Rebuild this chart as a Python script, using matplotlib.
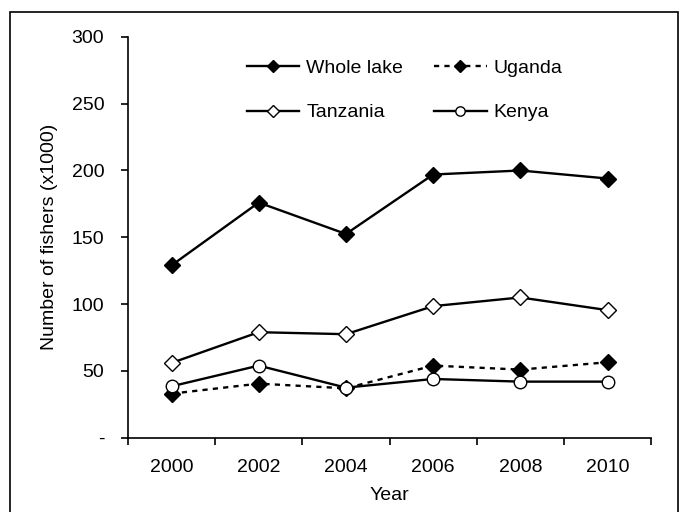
import numpy as np
import matplotlib
matplotlib.use('Agg')
import matplotlib.pyplot as plt
from matplotlib.patches import Rectangle

plt.rcParams['font.family'] = ['Liberation Sans', 'DejaVu Sans']

years = ['2000', '2002', '2004', '2006', '2008', '2010']
whole_lake = [129, 176, 152.5, 197, 200, 194]
uganda = [33, 40.5, 37, 54, 51, 56.5]
tanzania = [56, 79, 77.5, 98.5, 105, 95.5]
kenya = [38.5, 54, 37.5, 44, 42, 42]
ytick_vals = [0, 50, 100, 150, 200, 250, 300]
ytick_labels = ['-', '50', '100', '150', '200', '250', '300']

fs = 14
fig = plt.figure(figsize=(6.84, 5.12), dpi=100)
ax = fig.add_axes([0.187, 0.145, 0.765, 0.783])

x = np.arange(len(years))
lw = 1.7
l_whole, = ax.plot(x, whole_lake, color='black', lw=lw, marker='D', ms=8, mfc='black', mec='black', label='Whole lake')
l_uga, = ax.plot(x, uganda, color='black', lw=lw, ls=(0, (2.2, 2.2)), marker='D', ms=8, mfc='black', mec='black', label='Uganda')
l_tan, = ax.plot(x, tanzania, color='black', lw=lw, marker='D', ms=8, mfc='white', mec='black', mew=1, label='Tanzania')
l_ken, = ax.plot(x, kenya, color='black', lw=lw, marker='o', ms=9, mfc='white', mec='black', mew=1, label='Kenya')

ax.set_xlim(-0.5, len(years) - 0.5)
ax.set_ylim(0, 300)
ax.set_xticks(np.arange(-0.5, len(years), 1.0))
ax.set_xticklabels([])
ax.set_xticks(x, minor=True)
ax.set_xticklabels(years, minor=True)
ax.tick_params(axis='x', which='major', direction='out', length=5, width=1.2)
ax.tick_params(axis='x', which='minor', length=0, pad=15, labelsize=fs)
ax.set_yticks(ytick_vals)
ax.set_yticklabels(ytick_labels)
ax.tick_params(axis='y', direction='out', length=5, width=1.2, labelsize=fs, pad=12)

for s in ['top', 'right']:
    ax.spines[s].set_visible(False)
for s in ['left', 'bottom']:
    ax.spines[s].set_linewidth(1.2)

ax.set_xlabel('Year', fontsize=fs, labelpad=8)
ax.set_ylabel('Number of fishers (x1000)', fontsize=fs, labelpad=10)

# row-wise order: Whole lake, Uganda / Tanzania, Kenya
ax.legend([l_whole, l_tan, l_uga, l_ken], ['Whole lake', 'Tanzania', 'Uganda', 'Kenya'],
          loc='upper left', bbox_to_anchor=(0.2275, 0.945), ncol=2, frameon=False, fontsize=fs,
          borderpad=0, borderaxespad=0, handlelength=2.7, labelspacing=1.4,
          columnspacing=1.6, handletextpad=0.35, markerscale=0.75)

fig.patches.append(Rectangle((10 / 684, -0.02), 668 / 684, 1 - 12 / 512 + 0.02,
                             transform=fig.transFigure, fill=False, edgecolor='black', lw=1.2))

fig.savefig('out.png', dpi=100)
